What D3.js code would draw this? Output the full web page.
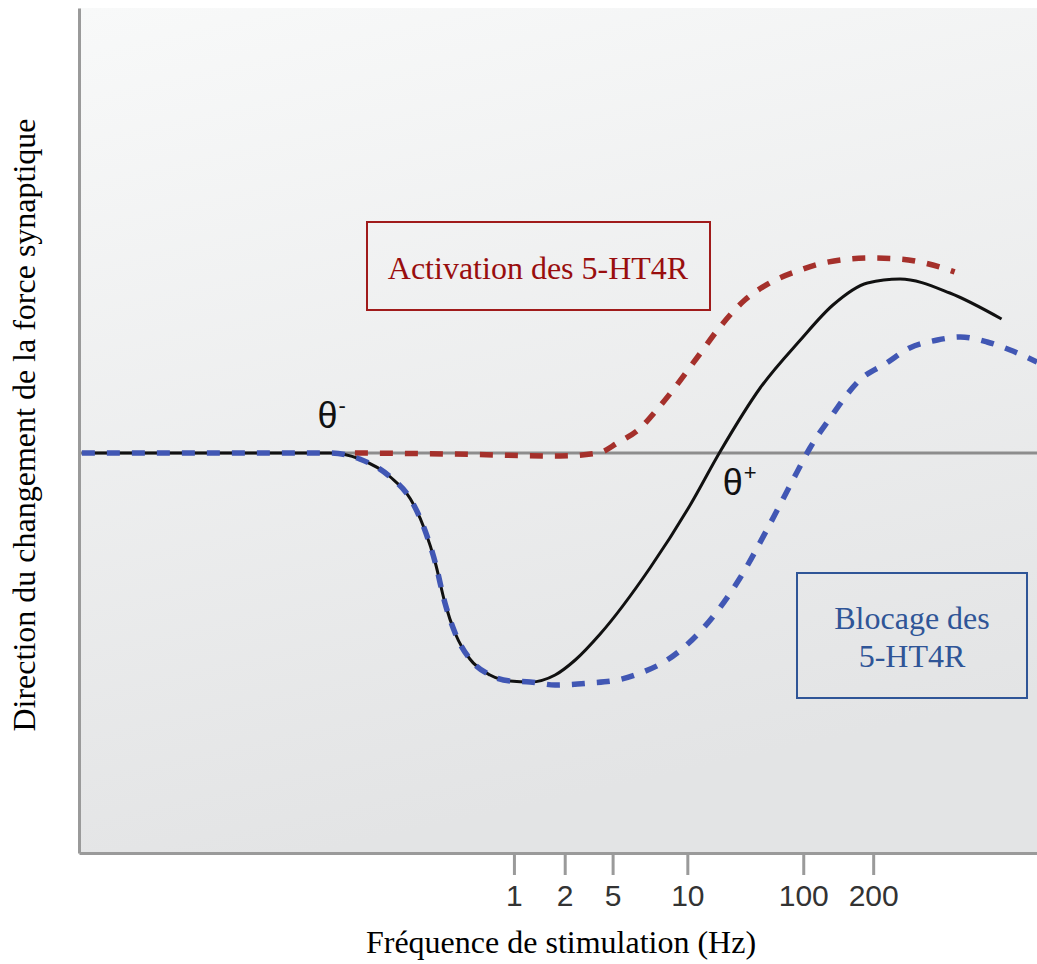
<!DOCTYPE html>
<html>
<head>
<meta charset="utf-8">
<script src="https://cdn.jsdelivr.net/npm/d3@7"></script>
<style>
  html, body { margin: 0; padding: 0; background: #fff; }
  svg { display: block; }
</style>
</head>
<body>
<div id="chart"></div>
<script>
// ---------- Data (schematic units: x 0..100 along axis, y 0 = no change) ----------
const tickLabels = ["1", "2", "5", "10", "100", "200"];
const tickPos    = [45.4, 50.7, 55.7, 63.5, 75.6, 82.9];

// control curve (solid black)
const controlX = [0.3, 26.2, 29.3, 32.5, 34.6, 36.1, 37.2, 38.2, 39.3, 40.8, 42.9, 45.0, 47.1,
                  49.7, 51.8, 54.4, 59.6, 63.8, 66.9, 71.1, 75.3, 78.7, 82.3, 85.7, 90.9, 96.3];
const controlY = [0, 0, -0.06, -0.24, -0.46, -0.77, -1.10, -1.50, -1.81, -2.06, -2.22, -2.28, -2.29,
                  -2.22, -2.07, -1.81, -1.15, -0.52, 0.01, 0.65, 1.13, 1.48, 1.70, 1.74, 1.60, 1.34];

// 5-HT4R activation (red dashed)
const activX = [28.8, 38.7, 50.2, 54.2, 56.2, 58.6, 60.3, 62.0, 64.8, 66.9, 69.5, 72.1,
                75.3, 77.7, 82.6, 85.7, 88.3, 91.4];
const activY = [0, -0.01, -0.03, 0, 0.10, 0.25, 0.43, 0.63, 0.99, 1.26, 1.53, 1.70,
                1.83, 1.90, 1.95, 1.94, 1.90, 1.81];

// 5-HT4R blocking (blue dashed)
const blockX = [0.3, 26.2, 29.3, 32.5, 34.6, 36.1, 37.2, 38.2, 39.3, 40.8, 42.9, 45.0, 47.1,
                49.7, 53.3, 56.2, 58.6, 61.4, 64.8, 69.0, 71.9, 74.9, 76.3, 78.4, 81.5,
                84.3, 86.7, 89.6, 92.0, 94.8, 97.2, 100];
const blockY = [0, 0, -0.06, -0.24, -0.46, -0.77, -1.10, -1.50, -1.81, -2.06, -2.22, -2.28, -2.29,
                -2.32, -2.30, -2.27, -2.20, -2.07, -1.79, -1.25, -0.75, -0.20, 0.05, 0.35, 0.73,
                0.90, 1.05, 1.13, 1.16, 1.11, 1.03, 0.91];

const thetaLabels = [
  { base: "θ", sup: "-", x: 24.9, y: 0.25 },
  { base: "θ", sup: "+", x: 67.2, y: -0.42 }
];

// ---------- Layout ----------
const W = 1037, H = 964;
const plot = { left: 79, right: 1037, top: 8, bottom: 853 };

const svg = d3.select("#chart").append("svg")
  .attr("width", W)
  .attr("height", H);

const x = d3.scaleLinear().domain([0, 100]).range([plot.left, plot.right]);
const y = d3.scaleLinear().domain([-4, 4.45]).range([plot.bottom, plot.top]);

// background gradient
const defs = svg.append("defs");
const grad = defs.append("linearGradient")
  .attr("id", "bg")
  .attr("x1", "0").attr("y1", "0")
  .attr("x2", "0.25").attr("y2", "1");
grad.append("stop").attr("offset", "0%").attr("stop-color", "#f8f9f9");
grad.append("stop").attr("offset", "100%").attr("stop-color", "#e3e4e5");

svg.append("rect")
  .attr("x", plot.left).attr("y", plot.top)
  .attr("width", plot.right - plot.left)
  .attr("height", plot.bottom - plot.top)
  .attr("fill", "url(#bg)");

// zero line
svg.append("line")
  .attr("x1", x(0)).attr("x2", x(100))
  .attr("y1", y(0)).attr("y2", y(0))
  .attr("stroke", "#8d8d8d")
  .attr("stroke-width", 3);

// ---------- Curves ----------
const line = d3.line()
  .x(d => x(d[0]))
  .y(d => y(d[1]))
  .curve(d3.curveMonotoneX);

const zip = (xs, ys) => xs.map((v, i) => [v, ys[i]]);

svg.append("path")
  .datum(zip(controlX, controlY))
  .attr("d", line)
  .attr("fill", "none")
  .attr("stroke", "#111")
  .attr("stroke-width", 3);

svg.append("path")
  .datum(zip(activX, activY))
  .attr("d", line)
  .attr("fill", "none")
  .attr("stroke", "#a5302b")
  .attr("stroke-width", 5.5)
  .attr("stroke-dasharray", "13 12");

svg.append("path")
  .datum(zip(blockX, blockY))
  .attr("d", line)
  .attr("fill", "none")
  .attr("stroke", "#4157b4")
  .attr("stroke-width", 5.5)
  .attr("stroke-dasharray", "13 12");

// ---------- Axes ----------
const xAxis = d3.axisBottom(x)
  .tickValues(tickPos)
  .tickFormat((d, i) => tickLabels[i])
  .tickSize(22)
  .tickPadding(10)
  .tickSizeOuter(0);

const gx = svg.append("g")
  .attr("transform", `translate(0,${plot.bottom})`)
  .call(xAxis);
gx.select(".domain").attr("stroke", "#9a9a9a").attr("stroke-width", 3);
gx.selectAll(".tick line").attr("stroke", "#9a9a9a").attr("stroke-width", 3);
gx.selectAll(".tick text")
  .attr("fill", "#333")
  .style("font-family", "'Liberation Sans', Arial, sans-serif")
  .style("font-size", "30px");

const gy = svg.append("g")
  .attr("transform", `translate(${plot.left},0)`)
  .call(d3.axisLeft(y).tickValues([]).tickSizeOuter(0));
gy.select(".domain").attr("stroke", "#9a9a9a").attr("stroke-width", 3);

// axis titles
const serif = "'Liberation Serif', 'Times New Roman', serif";

svg.append("text")
  .attr("x", 561).attr("y", 953)
  .attr("text-anchor", "middle")
  .style("font-family", serif)
  .style("font-size", "32px")
  .attr("fill", "#000")
  .text("Fréquence de stimulation (Hz)");

svg.append("text")
  .attr("transform", "translate(35,425) rotate(-90)")
  .attr("text-anchor", "middle")
  .style("font-family", serif)
  .style("font-size", "32px")
  .attr("fill", "#000")
  .text("Direction du changement de la force synaptique");

// theta thresholds
thetaLabels.forEach(t => {
  const txt = svg.append("text")
    .attr("x", x(t.x)).attr("y", y(t.y))
    .style("font-family", "'Liberation Sans', Arial, sans-serif")
    .style("font-size", "36px")
    .attr("fill", "#111");
  txt.append("tspan").text(t.base);
  txt.append("tspan")
    .attr("dy", -15)
    .attr("dx", 1)
    .style("font-size", "22px")
    .text(t.sup);
});

// ---------- Legend boxes ----------
const boxes = [
  { x: 367, y: 222, w: 343, h: 88, color: "#a01b1b", text: "#990e0e",
    lines: ["Activation des 5-HT4R"], cx: 538, base: 279 },
  { x: 797, y: 573, w: 230, h: 125, color: "#2f5597", text: "#2f5597",
    lines: ["Blocage des", "5-HT4R"], cx: 912, base: 629 }
];

boxes.forEach(b => {
  svg.append("rect")
    .attr("x", b.x).attr("y", b.y)
    .attr("width", b.w).attr("height", b.h)
    .attr("fill", "none")
    .attr("stroke", b.color)
    .attr("stroke-width", 2);
  b.lines.forEach((l, i) => {
    svg.append("text")
      .attr("x", b.cx).attr("y", b.base + i * 38)
      .attr("text-anchor", "middle")
      .style("font-family", serif)
      .style("font-size", "32px")
      .attr("fill", b.text)
      .text(l);
  });
});
</script>
</body>
</html>
